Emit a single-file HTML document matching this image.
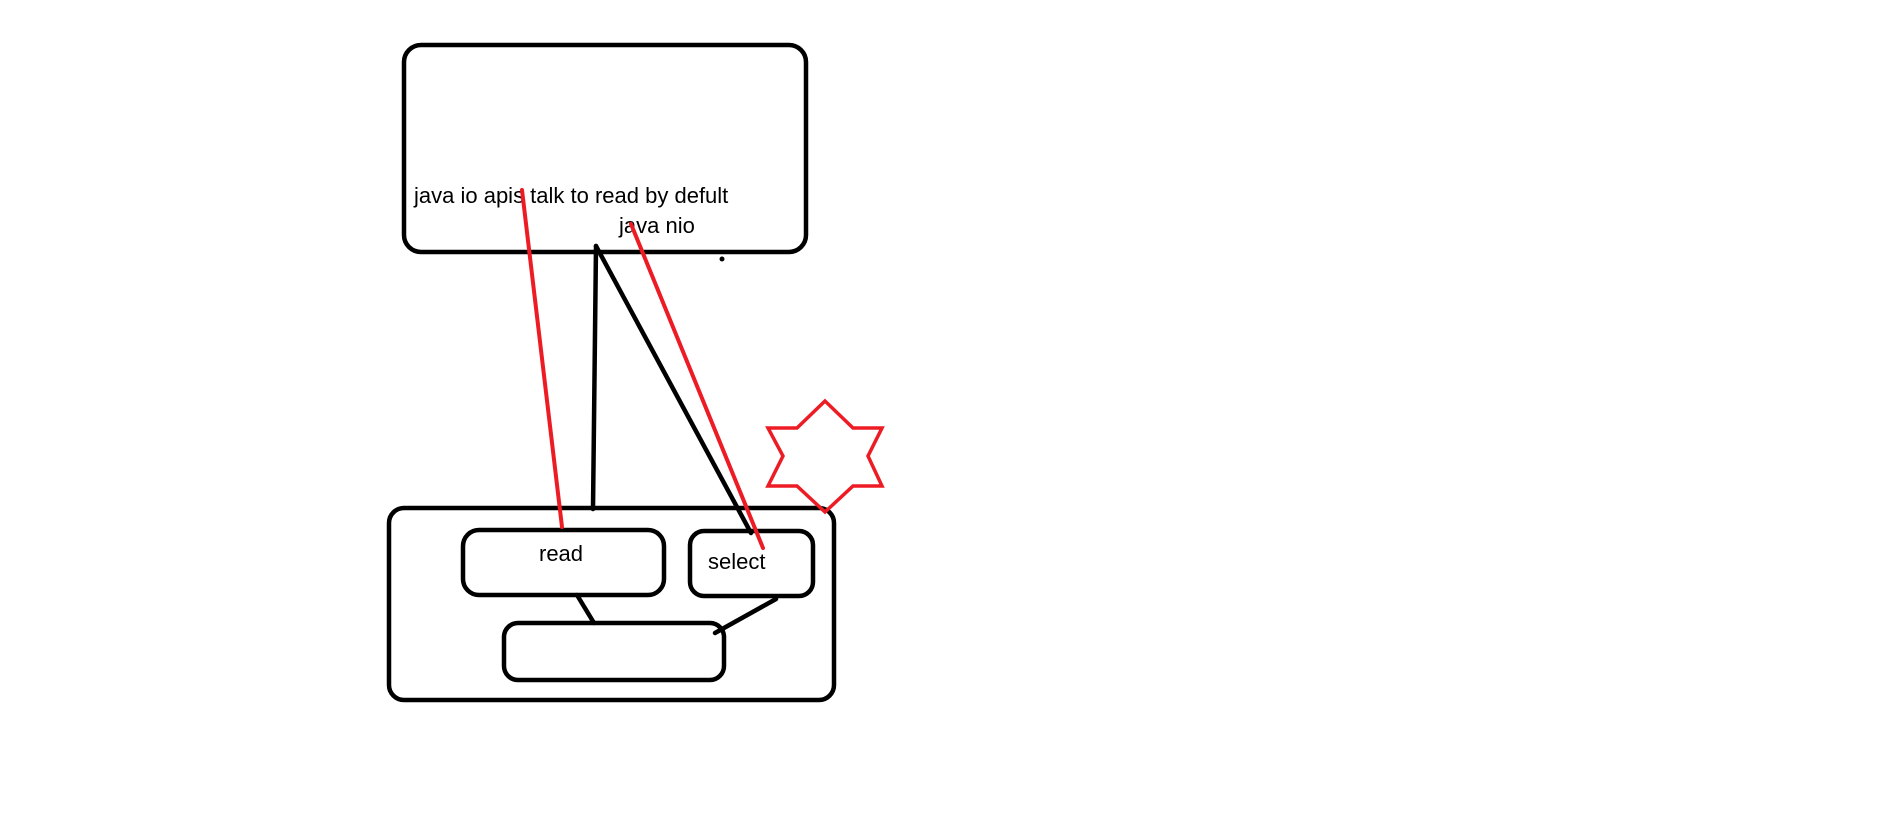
<!DOCTYPE html>
<html><head><style>html,body{margin:0;padding:0;background:#fff;}svg{display:block}</style></head>
<body>
<svg width="1901" height="822" viewBox="0 0 1901 822" xmlns="http://www.w3.org/2000/svg">
<g fill="none" stroke="#000" stroke-width="4.5" stroke-linejoin="round" stroke-linecap="round">
<rect x="404" y="45" width="402" height="207" rx="17"/>
<rect x="389" y="508" width="445" height="192" rx="15"/>
<rect x="463" y="530" width="201" height="65" rx="16"/>
<rect x="690" y="531" width="123" height="65" rx="14"/>
<rect x="504" y="623" width="220" height="57" rx="14"/>
<line x1="596" y1="246" x2="593" y2="509"/>
<line x1="596" y1="246" x2="751" y2="533"/>
<line x1="577" y1="595" x2="594" y2="623"/>
<line x1="776" y1="599" x2="715" y2="633"/>
</g>
<circle cx="722" cy="259" r="2.5" fill="#000"/>
<g font-family="Liberation Sans, sans-serif" font-size="22" fill="#000">
<text x="414" y="203">java io apis talk to read by defult</text>
<text x="619" y="233">java nio</text>
<text x="539" y="561">read</text>
<text x="708" y="569">select</text>
</g>
<g stroke="#ed1c24" stroke-width="4" fill="none" stroke-linecap="round">
<line x1="522" y1="190" x2="562" y2="527"/>
<line x1="631" y1="224" x2="763" y2="548"/>
<polygon stroke-width="3.5" points="825,401 797,428 768,428 783,456 768,486 797,486 825,512 853,486 882,486 868,456 882,428 853,428"/>
</g>
</svg>
</body></html>
